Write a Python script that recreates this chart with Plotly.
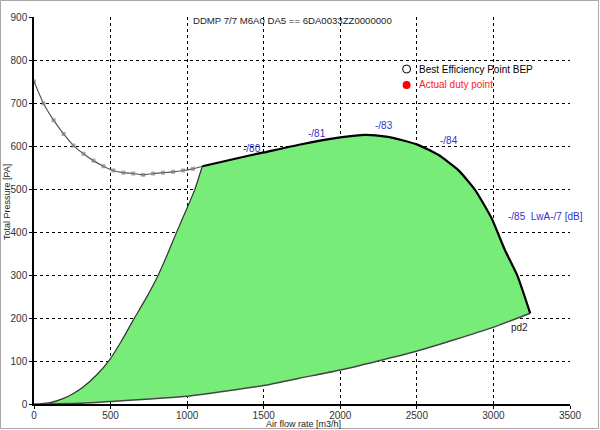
import plotly.graph_objects as go

# ---- data ----
unstable_q = [0, 62, 128, 193, 258, 323, 388, 453, 518, 583, 648, 713, 778, 843, 908, 973, 1038, 1099]
unstable_p = [750, 699, 660, 628, 601, 582, 566, 553, 543, 538, 536, 533, 536, 538, 540, 543, 547, 553]

left_q = [35, 106, 193, 260, 323, 410, 496, 570, 648, 730, 810, 870, 929, 994, 1049, 1099]
left_p = [0, 3, 13, 25, 40, 68, 104, 146, 195, 245, 299, 347, 398, 451, 498, 553]

top_q = [1099, 1250, 1407, 1500, 1731, 2000, 2164, 2300, 2400, 2512, 2642, 2771, 2880, 2988, 3075, 3157, 3240]
top_p = [553, 565, 578, 585, 603, 620, 626, 622, 614, 602, 579, 544, 498, 432, 358, 298, 211]

sys_q = [0, 300, 500, 1000, 1500, 1733, 2000, 2490, 2988, 3240]
sys_p = [0, 2, 6, 18, 43, 60, 79, 122, 177, 211]

speed_labels = ["-/80", "-/81", "-/83", "-/84"]
speed_label_q = [1426, 1849, 2284, 2707]
speed_label_p = [595, 630, 647, 612]

title_text = "DDMP 7/7 M6A0 DA5 == 6DA0033ZZ0000000"
x_ticks = [0, 500, 1000, 1500, 2000, 2500, 3000, 3500]
y_ticks = [0, 100, 200, 300, 400, 500, 600, 700, 800, 900]

FONT = "Liberation Sans, Arial, sans-serif"
GREEN = "#78EC78"

fig = go.Figure()

# filled operating region: left boundary up, top curve right, system curve back
poly_q = left_q + top_q[1:] + sys_q[::-1][1:]
poly_p = left_p + top_p[1:] + sys_p[::-1][1:]
fig.add_trace(go.Scatter(x=poly_q, y=poly_p, mode="lines", fill="toself",
                         fillcolor=GREEN, line=dict(width=0), hoverinfo="skip",
                         showlegend=False))
# boundaries
fig.add_trace(go.Scatter(x=left_q, y=left_p, mode="lines",
                         line=dict(color="#333333", width=1.2, shape="spline", smoothing=0.5),
                         showlegend=False))
fig.add_trace(go.Scatter(x=sys_q, y=sys_p, mode="lines",
                         line=dict(color="#444444", width=1.5, shape="spline", smoothing=0.5),
                         showlegend=False))
fig.add_trace(go.Scatter(x=top_q, y=top_p, mode="lines",
                         line=dict(color="black", width=2.2, shape="spline", smoothing=0.5),
                         showlegend=False))
# unstable part of the max-speed curve
fig.add_trace(go.Scatter(x=unstable_q, y=unstable_p, mode="lines+markers",
                         line=dict(color="#555555", width=1.2, shape="spline", smoothing=0.6),
                         marker=dict(symbol="square", size=[4] * (len(unstable_q) - 1) + [0],
                                     color="#808080", line=dict(width=0)),
                         showlegend=False))

# legend-like markers
fig.add_trace(go.Scatter(x=[2433], y=[779], mode="markers",
                         marker=dict(symbol="circle-open", size=8, color="black",
                                     line=dict(width=1, color="black")),
                         showlegend=False))
fig.add_trace(go.Scatter(x=[2433], y=[742], mode="markers",
                         marker=dict(symbol="circle", size=8, color="red"),
                         showlegend=False))

annotations = []
annotations.append(dict(x=2498, y=779, text="Best Efficiency Point BEP", showarrow=False,
                        xanchor="left", yanchor="middle",
                        font=dict(family=FONT, size=10, color="black")))
annotations.append(dict(x=2498, y=742, text="Actual duty point", showarrow=False,
                        xanchor="left", yanchor="middle",
                        font=dict(family=FONT, size=10, color="#FF2020")))
for t, q, p in zip(speed_labels, speed_label_q, speed_label_p):
    annotations.append(dict(x=q, y=p, text=t, showarrow=False,
                            xanchor="center", yanchor="middle",
                            font=dict(family=FONT, size=10, color="#3333CC")))
annotations.append(dict(x=3083, y=435, text="-/85  LwA-/7 [dB]", showarrow=False,
                        xanchor="left", yanchor="middle",
                        font=dict(family=FONT, size=10, color="#3333CC")))
annotations.append(dict(x=3173, y=177, text="pd2", showarrow=False,
                        xanchor="center", yanchor="middle",
                        font=dict(family=FONT, size=10, color="#222222")))
annotations.append(dict(x=1686, y=893, text=title_text, showarrow=False,
                        xanchor="center", yanchor="middle",
                        font=dict(family=FONT, size=9.6, color="#222222")))
annotations.append(dict(xref="paper", yref="paper", x=(7 - 34) / 536, y=(404 - 202) / 387,
                        text="Total Pressure [PA]", textangle=-90, showarrow=False,
                        xanchor="center", yanchor="middle",
                        font=dict(family=FONT, size=9, color="#222222")))
annotations.append(dict(xref="paper", yref="paper", x=(303 - 34) / 536, y=(404 - 424) / 387,
                        text="Air flow rate [m3/h]", showarrow=False,
                        xanchor="center", yanchor="middle",
                        font=dict(family=FONT, size=9, color="#222222")))

shapes = [dict(type="rect", xref="paper", yref="paper",
               x0=(0.5 - 34) / 536, x1=(598.5 - 34) / 536,
               y0=(404 - 428.5) / 387, y1=(404 - 0.5) / 387,
               line=dict(color="#A8A8A8", width=1), layer="below")]

fig.update_layout(
    width=600, height=430,
    margin=dict(l=34, r=30, t=17, b=26, autoexpand=False),
    paper_bgcolor="white", plot_bgcolor="white",
    showlegend=False,
    annotations=annotations, shapes=shapes,
    font=dict(family=FONT, size=10, color="#333333"),
)
fig.update_xaxes(range=[0, 3500], tickvals=x_ticks, showgrid=True, gridcolor="black",
                 griddash="3px,3px", gridwidth=1, zeroline=False, automargin=False,
                 showline=True, linecolor="black", linewidth=1.5,
                 ticks="outside", ticklen=3, tickcolor="black", ticklabelstandoff=-2,
                 tickfont=dict(family=FONT, size=10, color="#333333"), layer="above traces")
fig.update_yaxes(range=[0, 900], tickvals=y_ticks, showgrid=True, gridcolor="black",
                 griddash="3px,3px", gridwidth=1, zeroline=False, automargin=False,
                 showline=True, linecolor="black", linewidth=1.5,
                 ticks="outside", ticklen=3, tickcolor="black",
                 tickfont=dict(family=FONT, size=10, color="#333333"), layer="above traces")

fig.write_html("out.html", config={"displayModeBar": False},
               post_script="document.body.style.margin='0px';")
